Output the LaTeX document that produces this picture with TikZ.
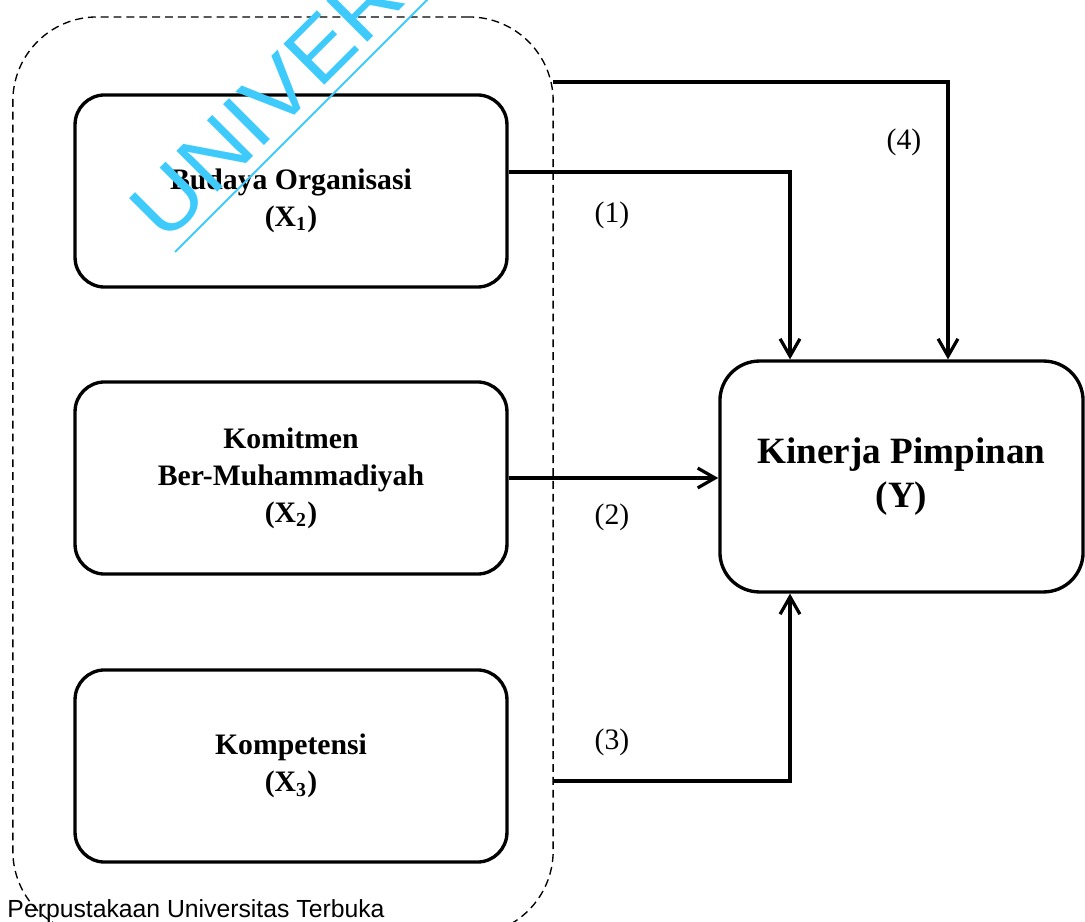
\documentclass[tikz,border=0pt]{standalone}
\usepackage{fontspec}
\setmainfont{Liberation Serif}
\newfontfamily\wmfont{Liberation Sans}
\usetikzlibrary{arrows.meta}
\definecolor{wmcyan}{RGB}{62,203,252}
\begin{document}
\begin{tikzpicture}[x=0.404pt,y=-0.404pt,
  box/.style={draw,line width=1.35pt,rounded corners=12pt,align=center,
    font=\bfseries\fontsize{12}{15}\selectfont,minimum width=174.5pt,minimum height=77.6pt},
  arr/.style={line width=1.3pt,-{Straight Barb[length=7pt,width=8pt]}},
  num/.style={font=\fontsize{12}{15}\selectfont}]
\useasboundingbox (0,0) rectangle (1085,922);
\clip (0,0) rectangle (1085,922);
\node[draw,line width=0.55pt,dash pattern=on 3.2pt off 2pt,rounded corners=34pt,minimum width=218.3pt,minimum height=370.9pt] (v0) at (283,476) {};
\node[box] (v1) at (291,191) {\rule{0pt}{16pt}Budaya Organisasi\\(X\textsubscript{1})};
\node[box] (v2) at (291,478) {Komitmen\\Ber-Muhammadiyah\\(X\textsubscript{2})};
\node[box] (v3) at (291,766) {Kompetensi\\(X\textsubscript{3})};
\node[box,rounded corners=16pt,font=\bfseries\fontsize{15}{18}\selectfont,minimum width=146.7pt,minimum height=93.3pt] (v5) at (901.5,476.5) {Kinerja Pimpinan\\(Y)};

\coordinate (k1) at (790,172);
\coordinate (k4s) at (553,82);
\coordinate (k4) at (948,82);
\coordinate (k3s) at (553,781);
\coordinate (k3) at (790,781);
\draw[arr] (v1.east |- k1) -- (k1) -- (k1 |- v5.north);
\draw[arr] (v2.east) -- (v2.east -| v5.west);
\draw[arr] (k3s) -- (k3) -- (k3 |- v5.south);
\draw[arr] (k4s) -- (k4) -- (k4 |- v5.north);

\node[num] (n1) at (612,215) {(1)};
\node[num] (n2) at (612,517) {(2)};
\node[num] (n3) at (612,742) {(3)};
\node[num] (n4) at (904,142) {(4)};

\node[anchor=base west,inner sep=0,font=\wmfont\fontsize{10}{12}\selectfont] (v6) at (7,917) {Perpustakaan Universitas Terbuka};

% watermark
\node[rotate=45,xscale=1.08,anchor=base west,inner sep=0,text=wmcyan,font=\wmfont\fontsize{34}{34}\selectfont] (w) at (165.5,244.5) {UNIVERSITAS TERBUKA};
\draw[wmcyan,line width=0.8pt] (175,252) -- (440,-13);
\end{tikzpicture}
\end{document}
